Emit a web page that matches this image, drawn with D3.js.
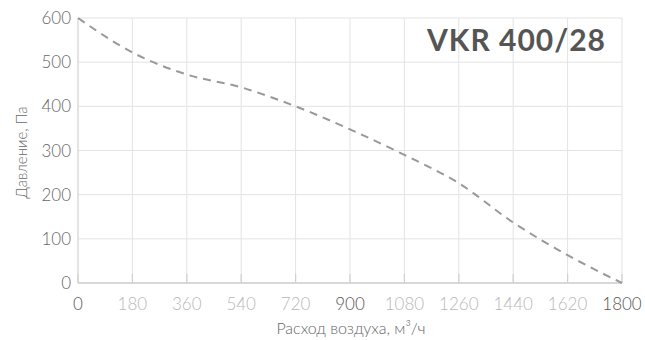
<!DOCTYPE html>
<html>
<head>
<meta charset="utf-8">
<script src="https://cdn.jsdelivr.net/npm/d3@7"></script>
<style>
  html, body { margin: 0; padding: 0; background: #fff; }
  svg { display: block; font-family: "Lato", "Open Sans", sans-serif; }
</style>
</head>
<body>
<svg id="chart" width="645" height="340"></svg>
<script>
// Fan performance curve: air flow (m³/h) vs static pressure (Pa)
const flow = [0, 180, 360, 540, 720, 900, 1080, 1260, 1440, 1620, 1800];
const pressure = [600, 522, 472, 443, 400, 348, 290, 226, 137, 63, 0];
const xTicks = [0, 180, 360, 540, 720, 900, 1080, 1260, 1440, 1620, 1800];
const yTicks = [0, 100, 200, 300, 400, 500, 600];
const majorX = [0, 900, 1800];
const title = "VKR 400/28";
const xLabel = "Расход воздуха, м³/ч";
const yLabel = "Давление, Па";

const svg = d3.select("#chart");
const m = { left: 78, right: 23, top: 18, bottom: 57 };
const W = 645, H = 340;

const x = d3.scaleLinear().domain([0, 1800]).range([m.left, W - m.right]);
const y = d3.scaleLinear().domain([0, 600]).range([H - m.bottom, m.top]);

// grid
svg.append("g").selectAll("line.v").data(xTicks).join("line")
  .attr("x1", d => x(d)).attr("x2", d => x(d))
  .attr("y1", y(600)).attr("y2", y(0))
  .attr("stroke", "#e3e3e3").attr("stroke-width", 1);
svg.append("g").selectAll("line.h").data(yTicks).join("line")
  .attr("x1", x(0)).attr("x2", x(1800))
  .attr("y1", d => y(d)).attr("y2", d => y(d))
  .attr("stroke", "#e3e3e3").attr("stroke-width", 1);

// bottom axis line with short ticks
svg.append("line")
  .attr("x1", x(0)).attr("x2", x(1800)).attr("y1", y(0)).attr("y2", y(0))
  .attr("stroke", "#cfcfcf").attr("stroke-width", 1.5);
svg.append("g").selectAll("line").data(xTicks).join("line")
  .attr("x1", d => x(d)).attr("x2", d => x(d))
  .attr("y1", y(0) - 9).attr("y2", y(0))
  .attr("stroke", "#d0d0d0").attr("stroke-width", 1.2);
// left axis line
svg.append("line")
  .attr("x1", x(0)).attr("x2", x(0)).attr("y1", y(600)).attr("y2", y(0))
  .attr("stroke", "#d6d6d6").attr("stroke-width", 1);

// tick labels
svg.append("g").selectAll("text").data(xTicks).join("text")
  .attr("x", d => x(d)).attr("y", y(0) + 27)
  .attr("text-anchor", "middle")
  .attr("font-size", 17).attr("font-weight", 300)
  .attr("fill", d => majorX.includes(d) ? "#555" : "#b8b8b8")
  .text(d => d);
svg.append("g").selectAll("text").data(yTicks).join("text")
  .attr("x", x(0) - 7).attr("y", d => y(d) + 6)
  .attr("text-anchor", "end")
  .attr("font-size", 17).attr("font-weight", 300)
  .attr("fill", "#666")
  .text(d => d);

// axis titles
svg.append("text")
  .attr("x", 351).attr("y", 334)
  .attr("text-anchor", "middle")
  .attr("font-size", 16).attr("font-weight", 300).attr("fill", "#666")
  .text(xLabel);
svg.append("text")
  .attr("transform", `translate(27,${(y(600) + y(0)) / 2 + 2}) rotate(-90)`)
  .attr("text-anchor", "middle")
  .attr("font-size", 15).attr("font-weight", 300).attr("fill", "#666")
  .text(yLabel);

// curve
const line = d3.line().x((d, i) => x(flow[i])).y(d => y(d)).curve(d3.curveMonotoneX);
svg.append("path")
  .datum(pressure)
  .attr("d", line)
  .attr("fill", "none")
  .attr("stroke", "#999")
  .attr("stroke-width", 2)
  .attr("stroke-dasharray", "8,6");

// model title
svg.append("text")
  .attr("x", 606).attr("y", 51)
  .attr("text-anchor", "end")
  .attr("font-size", 30).attr("font-weight", 700)
  .attr("letter-spacing", 1)
  .attr("fill", "#555")
  .text(title);
</script>
</body>
</html>
